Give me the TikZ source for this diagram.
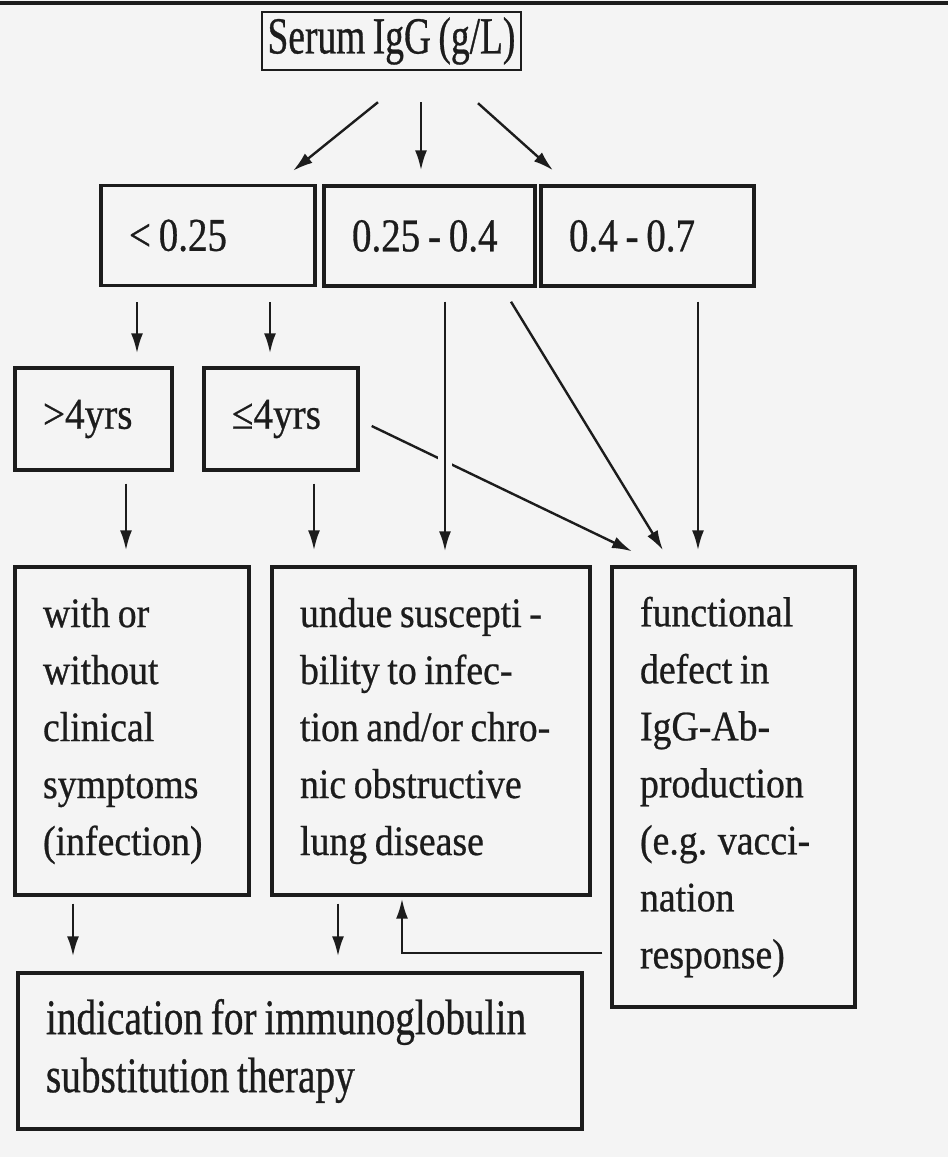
\documentclass[tikz,border=0pt]{standalone}
\usepackage{fontspec}
\setmainfont{Liberation Serif}
\newfontfamily\serumfont[FakeStretch=0.72,WordSpace=0.8,FakeBold=0.6]{Liberation Serif}
\newfontfamily\rangefont[FakeStretch=0.83,WordSpace=0.8,FakeBold=0.6]{Liberation Serif}
\newfontfamily\agefont[FakeStretch=0.89,WordSpace=0.8,FakeBold=0.6]{Liberation Serif}
\newfontfamily\notefont[FakeStretch=0.9,WordSpace=0.8,FakeBold=0.6]{Liberation Serif}
\newfontfamily\therapyfont[FakeStretch=0.785,WordSpace=0.8,FakeBold=0.6]{Liberation Serif}
\usetikzlibrary{arrows.meta}
\definecolor{ink}{RGB}{28,28,28}
\definecolor{paper}{RGB}{244,244,244}
\tikzset{
  box/.style={draw=ink,line width=3.4pt,inner xsep=28pt,inner ysep=0pt,align=flush left,text=ink},
  rangebox/.style={box,minimum height=100pt,font=\rangefont\fontsize{47}{47}\selectfont},
  agebox/.style={box,minimum height=102pt,font=\agefont\fontsize{44}{44}\selectfont},
  notebox/.style={box,font=\notefont\fontsize{42}{57}\selectfont},
  arr/.style={draw=ink,line width=2.4pt,-{Latex[length=20pt,width=12pt]}},
}
\begin{document}
\begin{tikzpicture}[x=1pt,y=-1pt]
\fill[paper] (0,0) rectangle (948,1157);
\useasboundingbox (0,0) rectangle (948,1157);
\draw[ink,line width=3.5pt] (0,3) -- (948,3);
\node[box,line width=2.4pt,inner xsep=2pt,align=center,minimum width=259pt,minimum height=58pt,font=\serumfont\fontsize{52}{52}\selectfont] (serum) at (391.5,41) {Serum IgG (g/L)};
\node[rangebox,text width=158pt] (lo) at (208,235.5) {< 0.25};
\node[rangebox,text width=155pt] (mid) at (429.5,236) {0.25 - 0.4};
\node[rangebox,text width=157pt] (hi) at (647.5,236) {0.4 - 0.7};
\node[agebox,text width=101pt] (old) at (93.5,419) {>4yrs};
\node[agebox,text width=98pt] (young) at (281,419) {≤4yrs};
\node[notebox,text width=178pt,minimum height=328pt] (symp) at (132,731) {with or\\without\\clinical\\symptoms\\(infection)};
\node[notebox,text width=262pt,minimum height=328pt] (susc) at (431,731) {undue suscepti -\\bility to infec-\\tion and/or chro-\\nic obstructive\\lung disease};
\node[notebox,text width=187pt,minimum height=440pt] (func) at (733.5,787) {functional\\defect in\\IgG-Ab-\\production\\(e.g. vacci-\\nation\\response)};
\node[box,text width=508pt,minimum height=156pt,font=\therapyfont\fontsize{50}{58}\selectfont] (ther) at (300,1051) {indication for immunoglobulin\\substitution therapy};
\draw[arr] ([shift={(-13.5,31)}]serum.south) -- ([shift={(85,-13)}]lo.north);
\draw[arr] ([shift={(29.5,31)}]serum.south) -- ([shift={(-8.5,-14)}]mid.north);
\draw[arr] ([shift={(86.5,32)}]serum.south) -- ([shift={(-94.5,-14)}]hi.north);
\draw[arr] ([shift={(-71,15)}]lo.south) -- ([shift={(43.5,-13)}]old.north);
\draw[arr] ([shift={(62,15)}]lo.south) -- ([shift={(-11,-13)}]young.north);
\draw[arr] ([shift={(12,7)}]young.east) -- ([shift={(-101.5,-14)}]func.north);
\draw[arr,preaction={draw=paper,line width=14pt,-}] ([shift={(15.5,14)}]mid.south) -- ([shift={(14,-14)}]susc.north);
\draw[arr] ([shift={(81.5,14)}]mid.south) -- ([shift={(-70.5,-15)}]func.north);
\draw[arr] ([shift={(50.5,14)}]hi.south) -- ([shift={(-35.5,-15)}]func.north);
\draw[arr] ([shift={(32.5,12)}]old.south) -- ([shift={(-6,-15)}]symp.north);
\draw[arr] ([shift={(33,12)}]young.south) -- ([shift={(-117,-15)}]susc.north);
\draw[arr] ([shift={(-59,7)}]symp.south) -- ([shift={(-227,-15)}]ther.north);
\draw[arr] ([shift={(-93,7)}]susc.south) -- ([shift={(38,-15)}]ther.north);
\draw[arr] ([shift={(-8,-56)}]func.south west) -| ([shift={(-29,2)}]susc.south);
\end{tikzpicture}
\end{document}
